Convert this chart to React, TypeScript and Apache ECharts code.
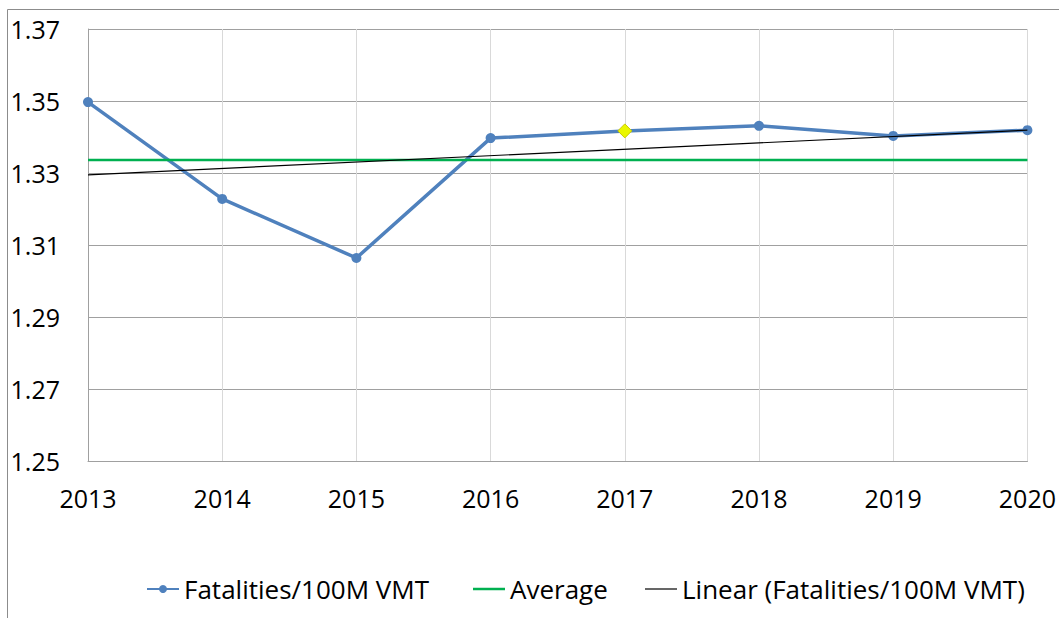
import React, { useEffect, useRef } from "react";
import * as echarts from "echarts";

const years = ["2013", "2014", "2015", "2016", "2017", "2018", "2019", "2020"];
const fatalities = [1.3497, 1.3228, 1.3064, 1.3397, 1.3417, 1.3431, 1.3403, 1.3419];
const averageValue = 1.3336;
const trendStart = 1.3295;
const trendEnd = 1.3419;
const highlightIndex = 4;

const FONT = "'Open Sans', sans-serif";

export default function App() {
  const ref = useRef<HTMLDivElement>(null);
  useEffect(() => {
    if (!ref.current) return;
    const chart = echarts.init(ref.current, null, { renderer: "svg" });
    const last = years.length - 1;
    const legendText = { fontFamily: FONT, fontSize: 26, color: "#000" };
    chart.setOption({
      animation: false,
      backgroundColor: "#ffffff",
      textStyle: { fontFamily: FONT },
      grid: { left: 88, right: 29, top: 29, bottom: 157, containLabel: false },
      graphic: [
        {
          type: "rect",
          silent: true,
          shape: { x: 7.5, y: 9.5, width: 1200, height: 800 },
          style: { fill: "none", stroke: "#8c8c8c", lineWidth: 1 },
        },
      ],
      legend: [
        {
          data: ["Fatalities/100M VMT"],
          left: 141,
          top: 571,
          itemWidth: 32,
          itemHeight: 10,
          textStyle: legendText,
        },
        {
          data: [{ name: "Average", icon: "rect" }],
          left: 468,
          top: 571,
          itemWidth: 32,
          itemHeight: 2.5,
          textStyle: legendText,
        },
        {
          data: [{ name: "Linear (Fatalities/100M VMT)", icon: "rect" }],
          left: 640,
          top: 571,
          itemWidth: 32,
          itemHeight: 1.2,
          textStyle: legendText,
        },
      ],
      xAxis: {
        type: "category",
        data: years,
        boundaryGap: false,
        axisLine: { show: true, lineStyle: { color: "#a0a0a0", width: 1 } },
        axisTick: { show: false },
        axisLabel: { fontFamily: FONT, fontSize: 25, color: "#000", margin: 24 },
        splitLine: { show: true, lineStyle: { color: "#d9d9d9", width: 1 } },
      },
      yAxis: {
        type: "value",
        min: 1.25,
        max: 1.37,
        interval: 0.01,
        axisLine: { show: true, lineStyle: { color: "#a0a0a0", width: 1 } },
        axisTick: { show: false },
        axisLabel: {
          fontFamily: FONT,
          fontSize: 25,
          color: "#000",
          margin: 28,
          formatter: (v: number) => (Math.round(v * 100) % 2 === 1 ? v.toFixed(2) : ""),
        },
        splitLine: {
          show: true,
          lineStyle: { color: ["#a0a0a0", "rgba(0,0,0,0)"], width: 1 },
        },
      },
      series: [
        {
          name: "Fatalities/100M VMT",
          type: "line",
          z: 2,
          data: fatalities.map((v, i) =>
            i === highlightIndex
              ? {
                  value: v,
                  symbol: "diamond",
                  symbolSize: 14,
                  itemStyle: { color: "#eaf700", borderColor: "#c9c900", borderWidth: 1 },
                }
              : v
          ),
          symbol: "circle",
          symbolSize: 10,
          itemStyle: { color: "#4f81bd" },
          lineStyle: { color: "#4f81bd", width: 3.5 },
        },
        {
          name: "Average",
          type: "line",
          z: 3,
          symbol: "none",
          data: [
            [0, averageValue],
            [last, averageValue],
          ],
          itemStyle: { color: "#00b050" },
          lineStyle: { color: "#00b050", width: 2.5 },
        },
        {
          name: "Linear (Fatalities/100M VMT)",
          type: "line",
          z: 4,
          symbol: "none",
          data: [
            [0, trendStart],
            [last, trendEnd],
          ],
          itemStyle: { color: "#000000" },
          lineStyle: { color: "#000000", width: 1.2 },
        },
      ],
    });
    return () => chart.dispose();
  }, []);
  return (
    <div
      ref={ref}
      style={{ position: "fixed", left: 0, top: 0, width: 1059, height: 618 }}
    />
  );
}
